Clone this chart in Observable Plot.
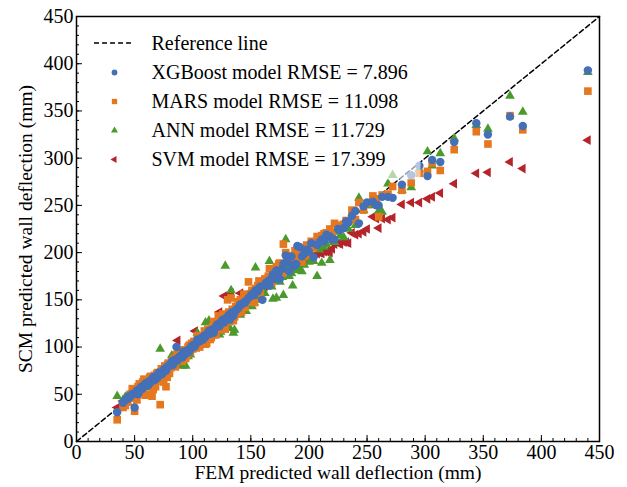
<!DOCTYPE html>
<html><head><meta charset="utf-8">
<script src="https://cdn.jsdelivr.net/npm/d3@7"></script>
<script src="https://cdn.jsdelivr.net/npm/@observablehq/plot@0.6"></script>
<style>html,body{margin:0;padding:0;background:#fff}#chart{width:627px;height:487px}#chart svg text{font-family:"Liberation Serif","Times New Roman",Times,serif !important}</style>
</head><body><div id="chart"></div>
<script>
// FEM predicted wall deflection (mm) — shared x values of the test cases
const fem = [
 35,40,42,44,45,46,48,50,51,52, 53,54,55,56,57,58,59,60,61,62,
 63,64,65,66,67,68,69,70,71,72, 73,74,75,76,77,78,79,80,81,82,
 83,84,85,86,87,88,89,90,91,92, 93,94,95,96,97,98,99,100,101,102,
 103,104,105,106,107,108,109,110,111,112, 113,114,115,116,117,118,119,120,121,122,
 123,124,125,126,127,128,129,130,131,132, 133,134,135,136,137,138,139,140,141,142,
 144,145,146,148,150,151,153,154,156,157, 158,160,162,163,165,166,168,169,170,172,
 174,175,177,178,180,181,183,185,186,188, 189,190,192,194,196,198,200,202,204,207,
 209,211,213,215,218,220,222,225,227,230, 232,234,237,240,243,247,250,255,258,260,
 263,268,272,280,288,295,302,306,313,325, 344,354,373,384,440
];
// SCM predictions (mm) for each model
const xgbPred = [
 31,41,44,45,48,47,50,36,52,54, 50,53,57,58,56,59,61,62,59,60,
 64,63,66,68,65,66,70,68,73,72, 71,72,76,77,75,79,80,80,82,85,
 81,84,87,100,86,89,90,91,89,95, 92,93,96,97,95,98,101,102,100,101,
 104,108,106,106,109,110,108,112,111,113, 115,117,114,118,116,115,120,121,124,124,
 122,125,128,129,126,128,131,131,134,129, 136,137,133,137,139,140,141,143,145,145,
 147,147,149,152,154,156,155,160,159,162, 164,150,166,168,170,165,173,177,172,181,
 179,172,183,188,197,190,180,196,187,186, 188,207,206,196,199,203,201,210,195,208,
 211,214,212,219,217,214,214,225,224,226, 233,232,239,244,231,249,253,254,250,250,
 259,259,258,272,282,292,281,298,296,317, 337,325,344,334,393
];
const marsPred = [
 23,36,38,42,46,50,56,32,47,44, 58,61,52,55,63,66,49,50,64,60,
 68,69,48,55,70,58,72,73,66,39, 77,76,63,80,58,68,83,72,78,80,
 86,88,79,92,90,86,94,94,85,97, 96,88,91,100,102,95,104,98,106,104,
 99,112,101,100,110,109,104,117,103,104, 119,116,108,110,121,127,114,113,126,133,
 118,121,130,135,124,119,133,150,137,127, 152,140,128,132,143,135,148,139,150,137,
 156,142,153,169,149,160,147,162,165,170, 157,166,172,172,175,183,168,179,181,185,
 188,189,178,209,200,197,195,193,187,202, 192,199,203,190,196,208,198,212,205,217,
 214,218,220,221,225,221,231,227,229,230, 234,233,245,235,253,245,252,260,257,238,
 261,262,270,266,274,284,286,295,287,309, 328,315,345,330,371
];
const annPred = [
 48,44,47,41,49,46,45,47,53,56, 54,55,58,52,60,64,57,58,62,66,
 61,60,67,68,64,63,71,72,69,98, 74,70,77,80,74,75,81,83,79,91,
 84,85,82,86,88,93,91,82,80,87, 95,80,99,90,96,92,100,103,104,100,
 107,115,103,104,108,111,105,108,126,110, 113,128,118,120,112,116,124,122,119,128,
 113,116,127,127,131,186,125,134,129,120, 160,132,115,118,138,141,137,145,134,141,
 149,145,138,156,148,143,147,184,150,153, 162,161,157,167,171,191,164,151,176,152,
 170,169,174,155,214,185,175,178,165,183, 181,186,183,180,187,196,190,193,191,175,
 203,189,206,209,192,213,211,222,218,216, 228,225,236,229,258,245,250,250,252,244,
 243,273,282,266,269,288,307,292,305,321, 335,331,366,349,391
];
const svmPred = [
 36,43,45,47,48,49,51,53,54,55, 55,57,58,59,60,61,62,63,63,65,
 65,66,67,68,69,70,71,72,73,74, 74,76,77,78,79,80,80,82,83,84,
 85,86,87,88,107,89,90,92,93,94, 95,96,96,98,99,100,101,102,103,117,
 105,106,107,108,109,110,111,112,113,114, 115,116,117,118,119,120,121,122,123,124,
 137,126,127,128,154,131,132,155,134,135, 157,137,138,139,140,141,142,143,157,145,
 147,148,149,151,153,154,156,157,159,160, 161,163,164,166,168,169,171,173,174,176,
 177,178,180,181,183,184,182,186,186,186, 187,188,189,191,192,193,194,195,196,199,
 200,199,201,201,200,204,209,210,209,211, 211,210,221,219,220,222,225,238,236,226,
 236,235,237,251,253,253,257,259,263,273, 284,285,296,289,319
];

const legendLabels = [
 "Reference line",
 "XGBoost model RMSE = 7.896",
 "MARS model RMSE = 11.098",
 "ANN model RMSE = 11.729",
 "SVM model RMSE = 17.399"
];
const majorTicks = [0, 50, 100, 150, 200, 250, 300, 350, 400, 450];
const minorTicks = d3.range(0, 451, 10);
const refLine = [0, 450];

const colors = {xgb: "#4470b8", mars: "#e5771f", ann: "#4b9a2d", svm: "#b5232b"};
const font = "Liberation Serif, Times New Roman, Times, serif";

// left-pointing triangle symbol
const triangleLeft = {
  draw(context, size) {
    const s = Math.sqrt(4 * size / Math.sqrt(3));
    const h = s * Math.sqrt(3) / 2;
    context.moveTo(-2 * h / 3, 0);
    context.lineTo(h / 3, -s / 2);
    context.lineTo(h / 3, s / 2);
    context.closePath();
  }
};

const rows = fem.map((f, i) => ({fem: f, xgb: xgbPred[i], mars: marsPred[i], ann: annPred[i], svm: svmPred[i]}));

const mL = 76, mT = 16;
const legendY = [43, 72, 101, 130, 159];
const legendSym = [null,
  {symbol: "circle", r: 2.9, fill: colors.xgb},
  {symbol: "square", r: 3.0, fill: colors.mars},
  {symbol: "triangle", r: 2.6, fill: colors.ann},
  {symbol: triangleLeft, r: 2.6, fill: colors.svm}];

const legendMarks = [];
legendLabels.forEach((lab, i) => {
  legendMarks.push(Plot.text([lab], {text: d => d, frameAnchor: "top-left", dx: 151 - mL, dy: legendY[i] - mT, textAnchor: "start", lineAnchor: "middle", fontSize: 20, fontFamily: font, fill: "black"}));
  const s = legendSym[i];
  if (s) legendMarks.push(Plot.dot([0], {frameAnchor: "top-left", dx: 114 - mL, dy: legendY[i] - mT, symbol: s.symbol, r: s.r, fill: s.fill}));
});

const chart = Plot.plot({
  width: 627, height: 487,
  marginLeft: 76, marginRight: 28, marginTop: 16, marginBottom: 46,
  x: {domain: [0, 450]},
  y: {domain: [0, 450]},
  style: {fontFamily: font, fontSize: "20px", color: "black", background: "white"},
  marks: [
    Plot.line(refLine, {x: d => d, y: d => d, stroke: "black", strokeWidth: 1.5, strokeDasharray: "5,3"}),
    Plot.dot(rows, {x: "fem", y: "svm", symbol: triangleLeft, r: 3.6, fill: colors.svm}),
    Plot.dot(rows, {x: "fem", y: "ann", symbol: "triangle", r: 3.6, fill: colors.ann}),
    Plot.dot(rows, {x: "fem", y: "mars", symbol: "square", r: 4.3, fill: colors.mars}),
    Plot.dot(rows, {x: "fem", y: "xgb", symbol: "circle", r: 4.2, fill: colors.xgb}),
    Plot.frame({fill: "white", fillOpacity: 0.6, stroke: null, insetLeft: 6, insetTop: 6, insetRight: 179, insetBottom: 262}),
    Plot.axisX(minorTicks, {tickSize: -3, text: null, label: null}),
    Plot.axisX(majorTicks, {tickSize: -6, text: null, label: null}),
    Plot.axisX(majorTicks, {tickSize: 0, tickPadding: 3, fontSize: 20, fontFamily: font, fontVariant: "normal", label: null}),
    Plot.axisY(minorTicks, {tickSize: -3, text: null, label: null}),
    Plot.axisY(majorTicks, {tickSize: -6, text: null, label: null}),
    Plot.axisY(majorTicks, {tickSize: 0, tickPadding: 3, fontSize: 20, fontFamily: font, fontVariant: "normal", label: null}),
    Plot.frame({stroke: "black", strokeWidth: 1.5}),
    Plot.text(["FEM predicted wall deflection (mm)"], {text: d => d, frameAnchor: "bottom", dy: 31, textAnchor: "middle", lineAnchor: "middle", fontSize: 19.5, fontFamily: font, fill: "black"}),
    Plot.text(["SCM predicted wall deflection (mm)"], {text: d => d, frameAnchor: "left", dx: -51, rotate: -90, textAnchor: "middle", lineAnchor: "middle", fontSize: 19.5, fontFamily: font, fill: "black"}),
    ...legendMarks
  ]
});

d3.select(chart).append("line")
  .attr("x1", 94).attr("x2", 133).attr("y1", legendY[0]).attr("y2", legendY[0])
  .attr("stroke", "black").attr("stroke-width", 1.5).attr("stroke-dasharray", "5,3");

document.getElementById("chart").appendChild(chart);
</script>
</body></html>
